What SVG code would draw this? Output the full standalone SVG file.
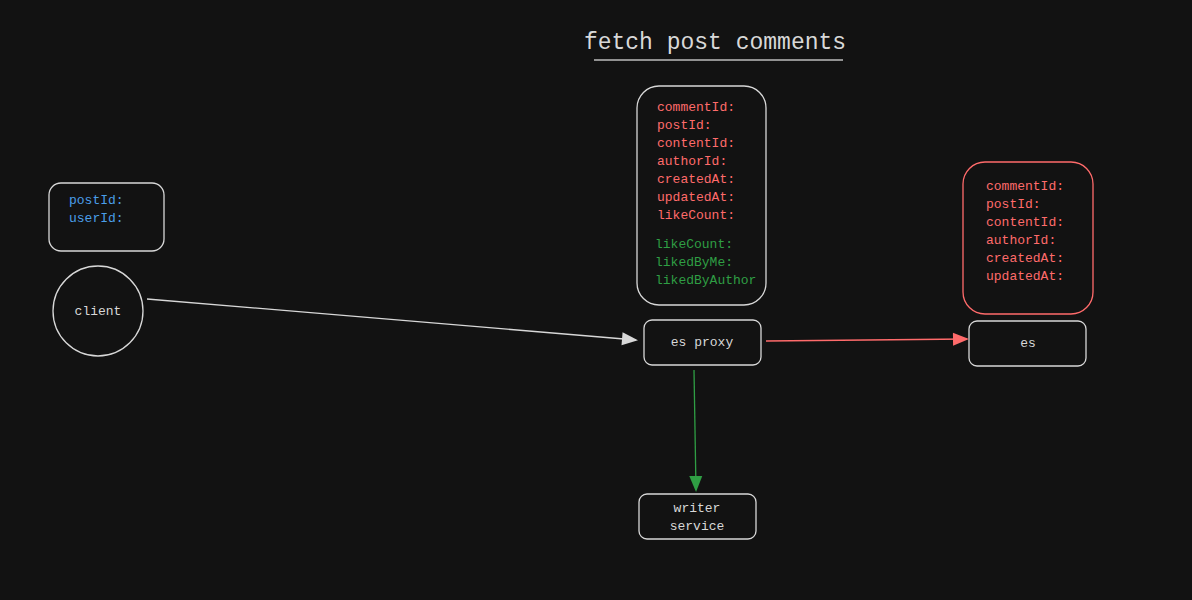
<svg xmlns="http://www.w3.org/2000/svg" width="1192" height="600" viewBox="0 0 1192 600">
<style>
text{font-family:"Liberation Mono","DejaVu Sans Mono",monospace;font-size:13px}
.w{fill:#d8d8d8}
.r{fill:#ff6b6b}
.g{fill:#2f9e44}
.b{fill:#4a9ee8}
.box{fill:none;stroke:#d8d8d8;stroke-width:1.3}
.c{text-anchor:middle;dominant-baseline:central}
</style>
<defs>
<marker id="aw" viewBox="0 0 10 10" refX="10" refY="5" markerWidth="10" markerHeight="10" markerUnits="userSpaceOnUse" orient="auto" overflow="visible"><path d="M-4,-1.5 L12,5 L-4,11.5 Z" fill="#d8d8d8"/></marker>
<marker id="ar" viewBox="0 0 10 10" refX="10" refY="5" markerWidth="10" markerHeight="10" markerUnits="userSpaceOnUse" orient="auto" overflow="visible"><path d="M-4,-1.5 L12,5 L-4,11.5 Z" fill="#ff6b6b"/></marker>
<marker id="ag" viewBox="0 0 10 10" refX="10" refY="5" markerWidth="10" markerHeight="10" markerUnits="userSpaceOnUse" orient="auto" overflow="visible"><path d="M-4,-1.5 L12,5 L-4,11.5 Z" fill="#2f9e44"/></marker>
</defs>
<rect width="1192" height="600" fill="#121212"/>
<g id="title">
<text x="715" y="49" class="w" text-anchor="middle" style="font-size:23px">fetch post comments</text>
<line x1="594" y1="60" x2="843" y2="60" stroke="#bdbdbd" stroke-width="1.5"/>
</g>
<g id="client-payload">
<rect x="49" y="183" width="115" height="68" rx="12" class="box"/>
<text x="69" y="204" class="b">postId:</text>
<text x="69" y="222" class="b">userId:</text>
</g>
<g id="client">
<circle cx="98" cy="311" r="45" class="box"/>
<text x="98" y="311" class="w c">client</text>
</g>
<g id="proxy-payload">
<rect x="637" y="86" width="129" height="219" rx="22" class="box"/>
<text x="657" y="111" class="r">commentId:</text>
<text x="657" y="129" class="r">postId:</text>
<text x="657" y="147" class="r">contentId:</text>
<text x="657" y="165" class="r">authorId:</text>
<text x="657" y="183" class="r">createdAt:</text>
<text x="657" y="201" class="r">updatedAt:</text>
<text x="657" y="219" class="r">likeCount:</text>
<text x="655" y="248" class="g">likeCount:</text>
<text x="655" y="266" class="g">likedByMe:</text>
<text x="655" y="284" class="g">likedByAuthor</text>
</g>
<g id="es-proxy">
<rect x="644" y="320" width="117" height="45" rx="8" class="box"/>
<text x="702" y="342" class="w c">es proxy</text>
</g>
<g id="es-payload">
<rect x="963" y="162" width="130" height="152" rx="22" fill="none" stroke="#ff6b6b" stroke-width="1.3"/>
<text x="986" y="190" class="r">commentId:</text>
<text x="986" y="208" class="r">postId:</text>
<text x="986" y="226" class="r">contentId:</text>
<text x="986" y="244" class="r">authorId:</text>
<text x="986" y="262" class="r">createdAt:</text>
<text x="986" y="280" class="r">updatedAt:</text>
</g>
<g id="es">
<rect x="969" y="321" width="117" height="45" rx="8" class="box"/>
<text x="1028" y="343" class="w c">es</text>
</g>
<g id="writer-service">
<rect x="639" y="494" width="117" height="45" rx="8" class="box"/>
<text x="697" y="508" class="w c">writer</text>
<text x="697" y="526" class="w c">service</text>
</g>
<g id="connectors" fill="none" stroke-width="1.3">
<line x1="147" y1="299" x2="636" y2="340" stroke="#d8d8d8" marker-end="url(#aw)"/>
<line x1="766" y1="341" x2="967" y2="339" stroke="#ff6b6b" marker-end="url(#ar)"/>
<line x1="694" y1="370" x2="696" y2="490" stroke="#2f9e44" marker-end="url(#ag)"/>
</g>
</svg>
